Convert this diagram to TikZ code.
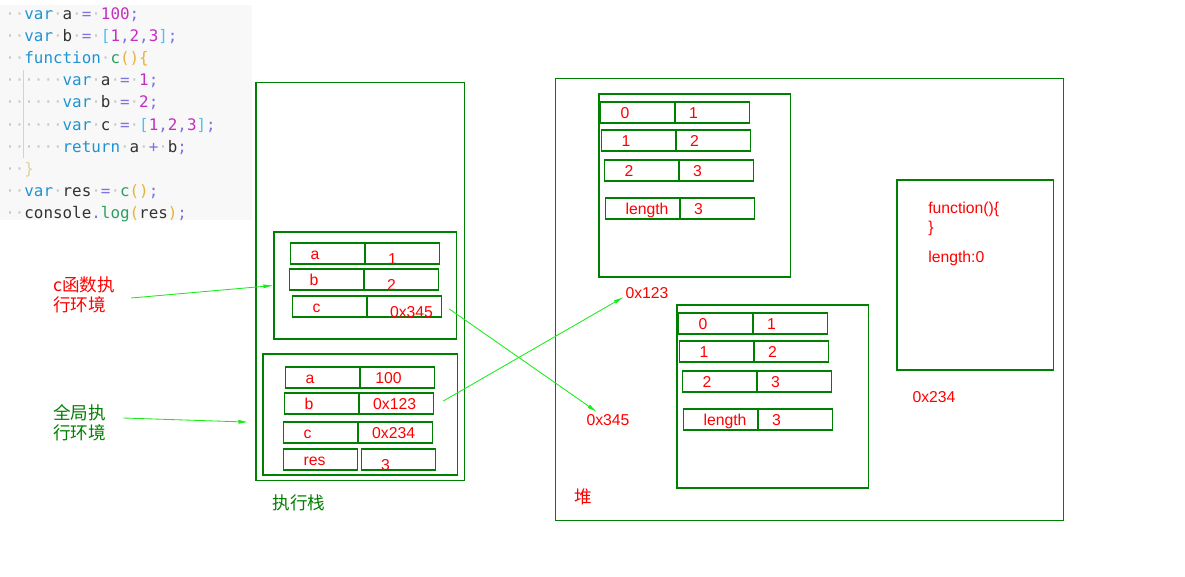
\documentclass[tikz,border=0pt]{standalone}
\usepackage{fontspec}
\setmainfont{Liberation Sans}
\newfontfamily\cjk{Noto Sans CJK SC}
\newfontfamily\codefont{DejaVu Sans Mono}
\usetikzlibrary{arrows.meta,positioning}

\definecolor{dkgreen}{RGB}{0,128,0}
\definecolor{linkgreen}{RGB}{25,235,25}
\definecolor{addrred}{RGB}{255,0,0}
\definecolor{codebg}{RGB}{248,248,248}
\definecolor{codeplain}{RGB}{51,51,51}
\definecolor{wsgray}{RGB}{200,200,200}
\definecolor{guidegray}{RGB}{210,210,210}
\definecolor{kwblue}{HTML}{1F94D2}
\definecolor{nummag}{HTML}{C32FBF}
\definecolor{oppurple}{HTML}{7D74E0}
\definecolor{brcyan}{HTML}{4EC1F0}
\definecolor{fngreen}{HTML}{2E9F64}
\definecolor{parorange}{HTML}{E8B23C}
\definecolor{bracepale}{HTML}{DDD39C}

\newcommand{\labelfont}{\fontsize{11.2}{13.5}\selectfont}
\newcommand{\notefont}{\cjk\fontsize{12.5}{14}\selectfont}
\newcommand{\ws}{\textcolor{wsgray}{·}}
\newcommand{\ckw}[1]{\textcolor{kwblue}{#1}}
\newcommand{\cnum}[1]{\textcolor{nummag}{#1}}
\newcommand{\cop}[1]{\textcolor{oppurple}{#1}}
\newcommand{\cbr}[1]{\textcolor{brcyan}{#1}}
\newcommand{\cfn}[1]{\textcolor{fngreen}{#1}}
\newcommand{\cpar}[1]{\textcolor{parorange}{#1}}
\newcommand{\sunk}[1]{\raisebox{-3.6pt}{#1}}

\begin{document}
\begin{tikzpicture}[
    x=0.025cm, y=-0.025cm,
    frame/.style={draw=dkgreen, line width=0.75pt, inner sep=0pt},
    cell/.style={draw=dkgreen, line width=0.75pt, minimum height=0.525cm,
                 text width=1.85cm, inner xsep=0pt, inner ysep=0pt, align=left,
                 text height=8pt, text depth=0pt, text=addrred, font=\labelfont},
    key/.style={cell, execute at begin node={\noindent\hspace*{0.5cm}}},
    val/.style={cell, execute at begin node={\noindent\hspace*{#1}}},
    val/.default=0.34cm,
    addr/.style={inner sep=0pt, text=addrred, font=\labelfont},
    note/.style={inner sep=0pt, align=left, font=\notefont},
    codeline/.style={anchor=base west, inner sep=0pt, text=codeplain,
                     font={\codefont\fontsize{11.3}{13}\selectfont}},
    link/.style={draw=linkgreen, line width=0.6pt, -{Latex[length=0.25cm, width=0.1cm]}}
]
\fill[white] (0,0) rectangle (1185,577);
\useasboundingbox (0,0) rectangle (1185,577);

% source code
\fill[codebg] (0,5) rectangle (252,220);
\draw[guidegray, line width=0.6pt] (23.5,70) -- (23.5,158);
\node[codeline] (l1) at (5,20) {\ws\ws\ckw{var}\ws a\ws\cop{=}\ws\cnum{100}\cop{;}};
\node[codeline] (l2) at (5,42) {\ws\ws\ckw{var}\ws b\ws\cop{=}\ws\cbr{[}\cnum{1}\cop{,}\cnum{2}\cop{,}\cnum{3}\cbr{]}\cop{;}};
\node[codeline] (l3) at (5,64) {\ws\ws\ckw{function}\ws\cfn{c}\cpar{()\{}};
\node[codeline] (l4) at (5,86) {\ws\ws\ws\ws\ws\ws\ckw{var}\ws a\ws\cop{=}\ws\cnum{1}\cop{;}};
\node[codeline] (l5) at (5,108) {\ws\ws\ws\ws\ws\ws\ckw{var}\ws b\ws\cop{=}\ws\cnum{2}\cop{;}};
\node[codeline] (l6) at (5,131) {\ws\ws\ws\ws\ws\ws\ckw{var}\ws c\ws\cop{=}\ws\cbr{[}\cnum{1}\cop{,}\cnum{2}\cop{,}\cnum{3}\cbr{]}\cop{;}};
\node[codeline] (l7) at (5,153) {\ws\ws\ws\ws\ws\ws\ckw{return}\ws a\ws\cop{+}\ws b\cop{;}};
\node[codeline] (l8) at (5,175) {\ws\ws\textcolor{bracepale}{\}}};
\node[codeline] (l9) at (5,197) {\ws\ws\ckw{var}\ws res\ws\cop{=}\ws\cfn{c}\cpar{()}\cop{;}};
\node[codeline] (l10) at (5,219) {\ws\ws console\cop{.}\cfn{log}\cpar{(}res\cpar{)}\cop{;}};

% execution stack
\node[frame, minimum width=5.2cm, minimum height=9.925cm] (stack) at (360,281.5) {};
\node[frame, minimum width=4.55cm, minimum height=2.675cm] (cframe) at (365,285.5) {};
\node[frame, minimum width=4.85cm, minimum height=3.025cm] (gframe) at (360,414.5) {};
\node[note, text=dkgreen] (stacklbl) at (299,503) {执行栈};

% c() frame
\node[key, anchor=west] (ca) at (290,253.5) {a};
\node[val=0.565cm, right=0pt of ca] (cav) {\sunk{1}};
\node[key, anchor=west] (cb) at (289,279.5) {b};
\node[val=0.565cm, right=0pt of cb] (cbv) {\sunk{2}};
\node[key, anchor=west] (cc) at (292,306.5) {c};
\node[val=0.56cm, right=0pt of cc] (ccv) {\sunk{0x345}};

% global frame
\node[key, anchor=west] (ga) at (285,377.5) {a};
\node[val=0.37cm, right=0pt of ga] (gav) {100};
\node[key, anchor=west] (gb) at (284,403.5) {b};
\node[val, right=0pt of gb] (gbv) {0x123};
\node[key, anchor=west] (gc) at (283,432.5) {c};
\node[val, right=0pt of gc] (gcv) {0x234};
\node[key, anchor=west] (gres) at (283,459.5) {res};
\node[val=0.49cm, right=0.075cm of gres] (gresv) {\sunk{3}};

% heap
\node[frame, minimum width=12.675cm, minimum height=11.025cm] (heap) at (809.5,299.5) {};
\node[note, text=addrred] (heaplbl) at (583,497) {堆};

% array [1,2,3] of b
\node[frame, minimum width=4.775cm, minimum height=4.575cm] (arr1) at (694.5,185.5) {};
\node[key, anchor=west] (a1k0) at (600,112.5) {0};
\node[val, right=0pt of a1k0] (a1v0) {1};
\node[key, anchor=west] (a1k1) at (601,140.5) {1};
\node[val, right=0pt of a1k1] (a1v1) {2};
\node[key, anchor=west] (a1k2) at (604,170.5) {2};
\node[val, right=0pt of a1k2] (a1v2) {3};
\node[key, anchor=west] (a1k3) at (605,208.5) {length};
\node[val, right=0pt of a1k3] (a1v3) {3};
\node[addr] (h123) at (647,293) {0x123};

% array [1,2,3] of c
\node[frame, minimum width=4.775cm, minimum height=4.575cm] (arr2) at (772.5,396.5) {};
\node[key, anchor=west] (a2k0) at (678,323.5) {0};
\node[val, right=0pt of a2k0] (a2v0) {1};
\node[key, anchor=west] (a2k1) at (679,351.5) {1};
\node[val, right=0pt of a2k1] (a2v1) {2};
\node[key, anchor=west] (a2k2) at (682,381.5) {2};
\node[val, right=0pt of a2k2] (a2v2) {3};
\node[key, anchor=west] (a2k3) at (683,419.5) {length};
\node[val, right=0pt of a2k3] (a2v3) {3};
\node[addr] (h345) at (608,420) {0x345};

% function object
\node[frame, minimum width=3.9cm, minimum height=4.75cm] (fbox) at (975,275) {};
\node[addr, anchor=north west, align=left] (fsrc) at (928,202) {function()\{\\\}};
\node[addr, anchor=north west] (flen) at (928,251) {length:0};
\node[addr] (h234) at (934,397) {0x234};

% side notes
\node[note, text=addrred, anchor=west] (clbl) at (53,295) {c函数执\\行环境};
\node[note, text=dkgreen, anchor=west] (glbl) at (53,423) {全局执\\行环境};

% links
\draw[link] ([xshift=0.4cm, yshift=-0.075cm]clbl.east) -- (cframe.west);
\draw[link] ([xshift=0.425cm, yshift=0.125cm]glbl.east) -- ([xshift=-0.35cm, yshift=-0.19cm]gframe.west);
\draw[link] ([xshift=0.175cm, yshift=-0.06cm]ccv.east) -- ([xshift=-0.275cm, yshift=0.2cm]h345.center);
\draw[link] ([xshift=0.225cm, yshift=0.06cm]gbv.east) -- ([xshift=-0.04cm, yshift=-0.1cm]h123.west);
\end{tikzpicture}
\end{document}
